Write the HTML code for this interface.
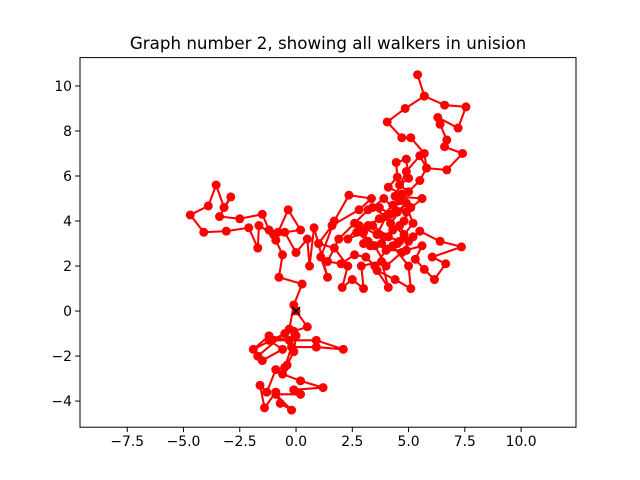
<!DOCTYPE html>
<html><head><meta charset="utf-8"><style>
body{margin:0;background:#fff;}
svg{display:block;font-family:"DejaVu Sans","Liberation Sans",sans-serif;}
</style></head><body>
<svg id="chart" width="640" height="480">
<rect width="640" height="480" fill="#fff"/>
<text x="328" y="49" font-size="16.7" text-anchor="middle">Graph number 2, showing all walkers in unision</text>
<g id="marks"></g>
<g id="axes"></g>
</svg>
<script>
const xTicks=[-7.5,-5,-2.5,0,2.5,5,7.5,10];
const xTickLabels=["\u22127.5","\u22125.0","\u22122.5","0.0","2.5","5.0","7.5","10.0"];
const yTicks=[-4,-2,0,2,4,6,8,10];
const yTickLabels=["\u22124","\u22122","0","2","4","6","8","10"];
const walkX=[0,0.5,-0.1,-0.3,-1.2,-1.9,-0.5,-1.7,-1.5,-0.6,-1.2,0.9,2.1,0.9,-0.2,-0.5,-0.9,-1.3,-1.6,-1.4,-0.9,-0.7,-0.2,-0.9,0.2,-0.1,1.2,0.2,-0.6,-0.4,-0.1,0.0,-0.3,-0.1,
0.27,-0.76,-0.6,-0.9,-1.0,-1.65,-1.7,-2.1,-3.1,-4.1,-4.7,-3.9,-3.55,-3.2,-2.9,-3.4,-2.5,-1.5,-1.2,-0.8,-0.35,0.2,-0.5,0,0.5,0.6,0.8,1.4,1.1,1.7,2.35,3.35,2.8,1.6,1.0,1.7,2.3,2.05,2.5,3.0,2.9,3.8,4.1,3.6,4.4,5.1,5.0,4.3,3.3,3.0,2.3,2.8,3.6,4.0,3.4,3.9,4.5,4.9,4.2,4.8,4.5,5.2,4.7,4.1,4.5,4.45,4.9,5.0,4.6,5.0,5.5,5.8,5.7,5.1,4.7,4.05,4.85,5.7,5.4,5.7,6.6,7.55,7.2,6.3,6.4,6.7,6.6,7.4,6.7,5.8,5.5,4.9,4.4,5.6,4.9,4.3,3.7,3.2,3.9,4.6,5.0,5.5,6.4,7.35,6.05,6.65,6.15,5.7,5.3,5.6,4.9,4.0,3.5,3.1,2.6,2.0,1.4,1.9,2.6,3.2,3.7,4.2,4.6,5.1,4.8,4.3,3.8,3.2,2.7,3.4,4.1,4.6,5.2,4.7,4.0,3.5,3.0];
const walkY=[0,-0.7,-0.9,-1.3,-1.1,-1.7,-1.0,-2.0,-2.2,-1.7,-1.3,-1.3,-1.7,-1.6,-1.6,-2.5,-2.6,-3.6,-3.3,-4.3,-3.6,-4.1,-4.4,-3.7,-3.7,-3.5,-3.4,-3.1,-2.8,-2.4,-1.8,-1.1,-0.8,0.27,
1.2,1.5,2.5,3.15,3.4,3.8,2.8,3.7,3.55,3.5,4.27,4.67,5.6,4.6,5.07,4.2,4.1,4.3,3.6,3.5,4.5,3.6,3.5,2.6,3.2,2.0,3.7,1.5,2.4,4.0,5.15,5.0,4.5,3.8,3.0,2.8,2.0,1.05,1.4,1.0,2.0,2.2,1.05,1.8,1.4,1.0,2.0,2.9,2.9,3.5,3.2,3.8,3.4,4.2,4.6,5.0,4.4,4.8,3.9,3.4,3.0,3.9,5.2,5.5,5.95,6.6,6.75,5.9,5.6,5.3,5.8,6.35,7.0,7.7,7.7,8.4,9.0,9.55,10.5,9.55,9.15,9.07,8.13,8.6,8.3,7.6,7.3,7.0,6.27,6.35,6.9,6.2,5.1,5.0,4.4,4.7,4.1,3.8,3.3,3.8,3.1,3.55,3.1,2.85,2.4,2.1,1.4,1.85,2.3,2.9,2.7,2.7,2.0,2.4,2.5,2.1,2.2,3.2,3.9,4.5,4.6,4.3,4.9,4.6,4.0,3.6,3.0,3.1,3.5,3.8,3.3,3.1,3.3,2.6,2.0,2.9,3.0];
const originMark=[0,0];

const L=80,R=576,T=57.6,B=427.2;
const xMin=-9.6,xMax=12.44,yMin=-5.16,yMax=11.26;
const sx=v=>L+(v-xMin)/(xMax-xMin)*(R-L);
const sy=v=>B-(v-yMin)/(yMax-yMin)*(B-T);
const NS="http://www.w3.org/2000/svg";
function mk(tag,attrs,parent){const e=document.createElementNS(NS,tag);for(const k in attrs)e.setAttribute(k,attrs[k]);parent.appendChild(e);return e;}
const marks=document.getElementById('marks'), axes=document.getElementById('axes');
const clip=mk('clipPath',{id:'cp'},marks);mk('rect',{x:L,y:T,width:R-L,height:B-T},clip);
const g=mk('g',{'clip-path':'url(#cp)'},marks);
const line=mk('polyline',{points:walkX.map((x,i)=>sx(x)+','+sy(walkY[i])).join(' '),fill:'none',stroke:'#ff0000','stroke-width':2.08,'stroke-linejoin':'round'},g);


walkX.forEach((x,i)=>{
  const c=mk('circle',{cx:sx(x),cy:sy(walkY[i]),r:4.5,fill:'#ff0000'},g);
  
  
});
const ox=sx(originMark[0]),oy=sy(originMark[1]);
const om=mk('path',{d:`M${ox-4},${oy-4}L${ox+4},${oy+4}M${ox-4},${oy+4}L${ox+4},${oy-4}`,stroke:'#000','stroke-width':1.5},g);


const frame=mk('rect',{x:L,y:T,width:R-L,height:B-T,fill:'none',stroke:'#000','stroke-width':1},axes);


xTicks.forEach((v,i)=>{
  const x=sx(v);
  mk('line',{x1:x,x2:x,y1:B,y2:B+4.9,stroke:'#000','stroke-width':1},axes);
  const t=mk('text',{x:x,y:B+19,'font-size':13.9,'text-anchor':'middle'},axes);
  t.textContent=xTickLabels[i];
  
  
});
yTicks.forEach((v,i)=>{
  const y=sy(v);
  mk('line',{x1:L-4.9,x2:L,y1:y,y2:y,stroke:'#000','stroke-width':1},axes);
  const t=mk('text',{x:L-8,y:y+5,'font-size':13.9,'text-anchor':'end'},axes);
  t.textContent=yTickLabels[i];
  
  
});
</script>
</body></html>
